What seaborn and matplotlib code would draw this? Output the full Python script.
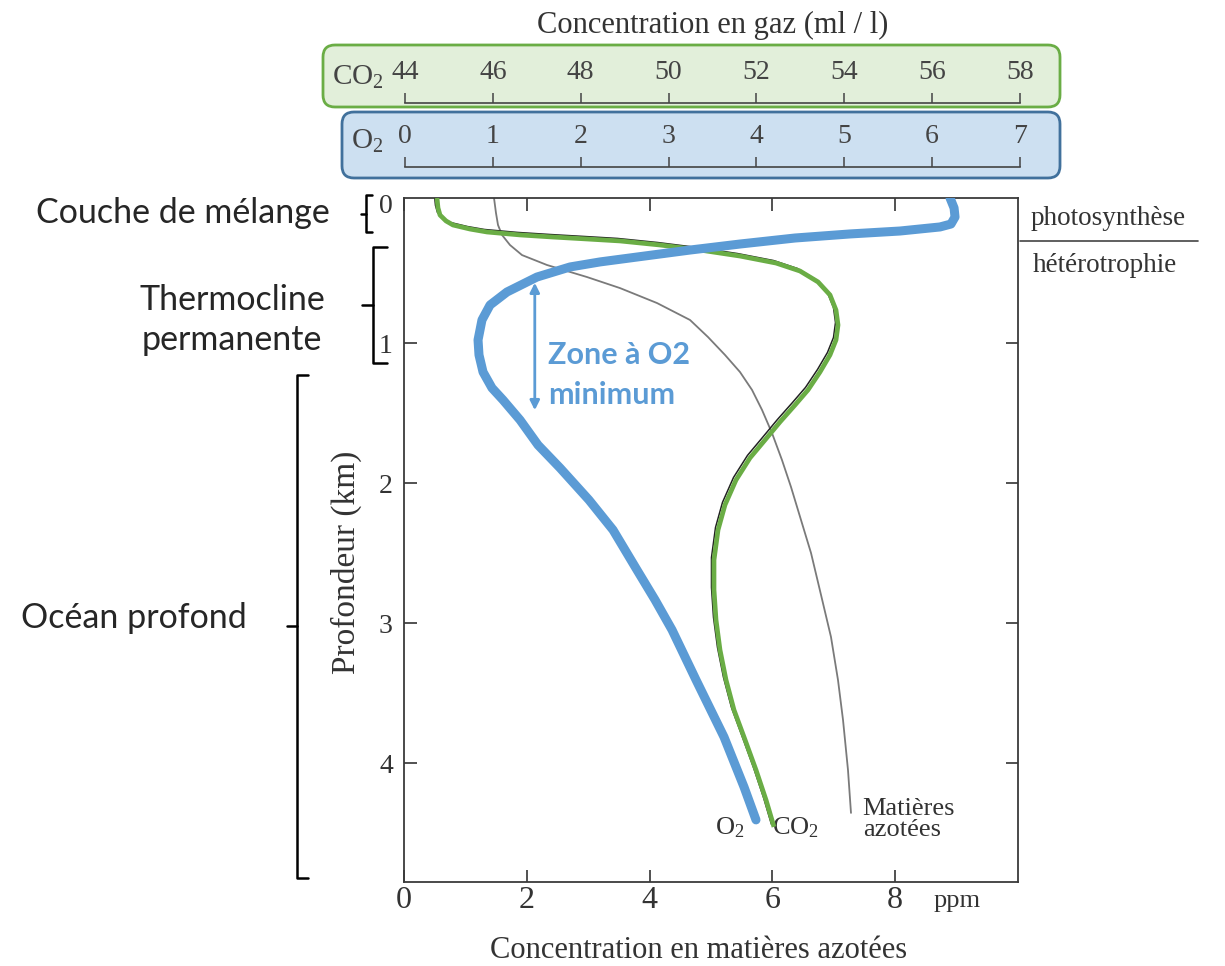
import matplotlib
matplotlib.use("Agg")
import matplotlib.pyplot as plt
import seaborn as sns
from matplotlib.patches import FancyBboxPatch
from matplotlib.transforms import ScaledTranslation

# depth (km) and concentrations
o2_depth = [-0.04, 0.031, 0.096, 0.146, 0.167, 0.196, 0.217, 0.246, 0.289, 0.332,
            0.382, 0.417, 0.453, 0.525, 0.632, 0.725, 0.832, 0.975, 1.082, 1.204,
            1.318, 1.404, 1.547, 1.726, 1.890, 2.119, 2.333, 2.619, 2.833, 3.048,
            3.405, 3.813, 4.170, 4.406]
o2_mll = [6.225, 6.271, 6.282, 6.236, 6.111, 5.655, 5.085, 4.458, 3.831, 3.261,
          2.656, 2.235, 1.893, 1.516, 1.174, 0.981, 0.889, 0.844, 0.855, 0.901,
          1.003, 1.129, 1.323, 1.528, 1.779, 2.109, 2.383, 2.656, 2.862, 3.056,
          3.329, 3.648, 3.876, 4.013]

co2_depth = [-0.04, 0.031, 0.082, 0.124, 0.153, 0.182, 0.203, 0.224, 0.239, 0.253,
             0.267, 0.296, 0.332, 0.375, 0.425, 0.482, 0.560, 0.653, 0.761, 0.868,
             0.975, 1.082, 1.204, 1.332, 1.440, 1.561, 1.690, 1.818, 1.976, 2.154,
             2.333, 2.548, 2.762, 2.976, 3.191, 3.405, 3.620, 3.813, 4.049, 4.263,
             4.456]
co2_mll = [44.752, 44.775, 44.821, 44.958, 45.117, 45.505, 45.893, 46.645, 47.397,
           48.173, 48.925, 49.837, 50.749, 51.661, 52.482, 53.029, 53.440, 53.713,
           53.850, 53.896, 53.850, 53.713, 53.485, 53.212, 52.915, 52.573, 52.231,
           51.889, 51.570, 51.319, 51.160, 51.068, 51.068, 51.114, 51.205, 51.342,
           51.524, 51.752, 52.026, 52.254, 52.436]

azote_depth = [-0.04, 0.067, 0.153, 0.224, 0.296, 0.368, 0.439, 0.525, 0.604, 0.711,
               0.832, 0.954, 1.082, 1.204, 1.332, 1.475, 1.640, 1.833, 2.026, 2.262,
               2.498, 2.798, 3.098, 3.405, 3.691, 4.049, 4.356]
azote_ppm = [1.466, 1.498, 1.531, 1.596, 1.726, 1.922, 2.329, 2.980, 3.518, 4.121,
             4.658, 4.951, 5.228, 5.472, 5.668, 5.831, 5.993, 6.156, 6.303, 6.466,
             6.629, 6.792, 6.954, 7.068, 7.150, 7.231, 7.280]

ppm_ticks = [0, 2, 4, 6, 8]
depth_ticks = [0, 1, 2, 3, 4]
co2_ticks = [44, 46, 48, 50, 52, 54, 56, 58]
o2_ticks = [0, 1, 2, 3, 4, 5, 6, 7]

layer_names = ["Couche de mélange", "Thermocline\npermanente", "Océan profond"]
layer_top = [-0.06, 0.31, 1.225]
layer_bottom = [0.203, 1.14, 4.82]

BLUE = "#5b9bd5"
GREEN = "#6aad45"
INK = "#333333"
SERIF = ["Liberation Serif", "DejaVu Serif"]
SANS = ["Lato", "DejaVu Sans"]

sns.set_theme(style="white")
plt.rcParams["font.family"] = SERIF
plt.rcParams["mathtext.fontset"] = "custom"
plt.rcParams["mathtext.rm"] = "Liberation Serif"

W, H = 1225, 966
fig = plt.figure(figsize=(W / 100, H / 100), dpi=100)


def rect(x0, y0, x1, y1):
    return [x0 / W, 1 - y1 / H, (x1 - x0) / W, (y1 - y0) / H]


# main axes (ppm / depth)
ax = fig.add_axes(rect(404, 198, 1018, 882))
ax.set_xlim(0, 10)

sns.lineplot(x=azote_ppm, y=azote_depth, ax=ax, sort=False, estimator=None,
             color="#7a7a7a", lw=1.3)

# gas curves on twin x scales
ax_co2 = ax.twiny()
ax_co2.set_xlim(44, 58)
shift = ax_co2.transData + ScaledTranslation(-2.5 / 100, 2.5 / 100, fig.dpi_scale_trans)
ax_co2.plot(co2_mll, co2_depth, color="#222222", lw=1.1, transform=shift)
sns.lineplot(x=co2_mll, y=co2_depth, ax=ax_co2, sort=False, estimator=None,
             color=GREEN, lw=3.4, solid_capstyle="butt", solid_joinstyle="round")
ax_co2.set_axis_off()

ax_o2 = ax.twiny()
ax_o2.set_xlim(0, 7)
sns.lineplot(x=o2_mll, y=o2_depth, ax=ax_o2, sort=False, estimator=None,
             color=BLUE, lw=6.5, solid_capstyle="round", solid_joinstyle="round")
ax_o2.set_axis_off()

ax.set_ylim(4.85, -0.04)
ax.set_xlabel("")
ax.set_ylabel("")
ax.set_xticks(ppm_ticks)
ax.set_yticks(depth_ticks)
ax.tick_params(direction="in", length=9, width=1.2, top=True, bottom=True, left=True,
               right=True, labeltop=False, labelright=False, color=INK, labelcolor=INK)
ax.tick_params(axis="x", pad=3, labelsize=23)
ax.tick_params(axis="y", pad=8, labelsize=20)
first = ax.yaxis.get_major_ticks()[0]
first.tick1line.set_visible(False)
first.tick2line.set_visible(False)
for s in ax.spines.values():
    s.set_color("#3a3a3a")
    s.set_linewidth(1.3)

# curve labels
ax.text(5.3, 4.463, r"$\mathrm{O_2}$", fontsize=19, color=INK, ha="center", va="center")
ax.text(6.37, 4.463, r"$\mathrm{CO_2}$", fontsize=19, color=INK, ha="center", va="center")
ax.text(7.47, 4.406, "Matières\nazotées", fontsize=19, color=INK, ha="left", va="center",
        linespacing=0.95)
ax.text(9.0, -0.028, "ppm", fontsize=19, color=INK, ha="center", va="center",
        transform=ax.get_xaxis_transform())

# oxygen minimum zone
ax.annotate("", xy=(2.13, 0.546), xytext=(2.13, 1.497),
            arrowprops=dict(arrowstyle="<|-|>", color=BLUE, lw=2, mutation_scale=14))
ax.text(2.35, 1.225, "Zone à O2\nminimum", color=BLUE, fontsize=22, fontweight="bold",
        family=SANS, ha="left", va="center", linespacing=1.5)

# layer brackets on the left
bx = [-0.62, -0.50, -1.74]
serif_len = [0.10, 0.22, 0.18]
tick_len = [0.08, 0.18, 0.17]
for i, name in enumerate(layer_names):
    x, t, b = bx[i], layer_top[i], layer_bottom[i]
    mid = (t + b) / 2
    ax.plot([x + serif_len[i], x, x, x + serif_len[i]], [t, t, b, b],
            color="black", lw=1.8, clip_on=False)
    ax.plot([x, x - tick_len[i]], [mid, mid], color="black", lw=1.8, clip_on=False)

ax.text(-1.21, 0.067, layer_names[0], family=SANS, fontsize=24.5, ha="right", va="center")
ax.text(-2.8, 0.832, layer_names[1], family=SANS, fontsize=24.5, ha="center", va="center",
        linespacing=1.32)
ax.text(-2.56, 2.96, layer_names[2], family=SANS, fontsize=24.5, ha="right", va="center")

# photosynthesis / heterotrophy boundary
ax.plot([10.03, 12.93], [0.267, 0.267], color="#444444", lw=1.2, clip_on=False)
ax.text(11.47, 0.103, "photosynthèse", fontsize=19.5, color=INK, ha="center", va="center")
ax.text(11.42, 0.439, "hétérotrophie", fontsize=19.5, color=INK, ha="center", va="center")

# axis titles
fig.text(713 / W, 1 - 25 / H, "Concentration en gaz (ml / l)", fontsize=22, color=INK,
         ha="center", va="center")
fig.text(699 / W, 1 - 950 / H, "Concentration en matières azotées", fontsize=22,
         color=INK, ha="center", va="center")
fig.text(346 / W, 1 - 562 / H, "Profondeur (km)", fontsize=24, color=INK, rotation=90,
         ha="center", va="center")

# gas scale boxes
fig.add_artist(FancyBboxPatch((3.23, 8.59), 7.37, 0.62,
                              boxstyle="round,pad=0,rounding_size=0.12",
                              transform=fig.dpi_scale_trans, fc="#e2efda", ec=GREEN,
                              lw=2, zorder=0))
fig.add_artist(FancyBboxPatch((3.42, 7.88), 7.18, 0.66,
                              boxstyle="round,pad=0,rounding_size=0.12",
                              transform=fig.dpi_scale_trans, fc="#cde0f1", ec="#41719c",
                              lw=2, zorder=0))

for ticks, lims, y_base, name, name_x in [
    (co2_ticks, (44, 58), 103, r"$\mathrm{CO_2}$", 332),
    (o2_ticks, (0, 7), 167, r"$\mathrm{O_2}$", 351),
]:
    sc = fig.add_axes(rect(405, y_base - 10, 1020, y_base))
    sc.set_facecolor("none")
    sc.set_xlim(*lims)
    sc.set_xticks(ticks)
    sc.set_yticks([])
    for k, s in sc.spines.items():
        s.set_visible(k == "bottom")
    sc.spines["bottom"].set_color("#444444")
    sc.spines["bottom"].set_linewidth(1.2)
    sc.tick_params(axis="x", direction="in", length=7, width=1.1, bottom=True, top=False,
                   labelbottom=False, labeltop=True, pad=6, labelsize=20, color="#444444",
                   labelcolor="#444444")
    fig.text(name_x / W, 1 - (y_base - 26) / H, name, fontsize=21, color="#444444",
             ha="left", va="center")

fig.savefig("out.png", dpi=100)
